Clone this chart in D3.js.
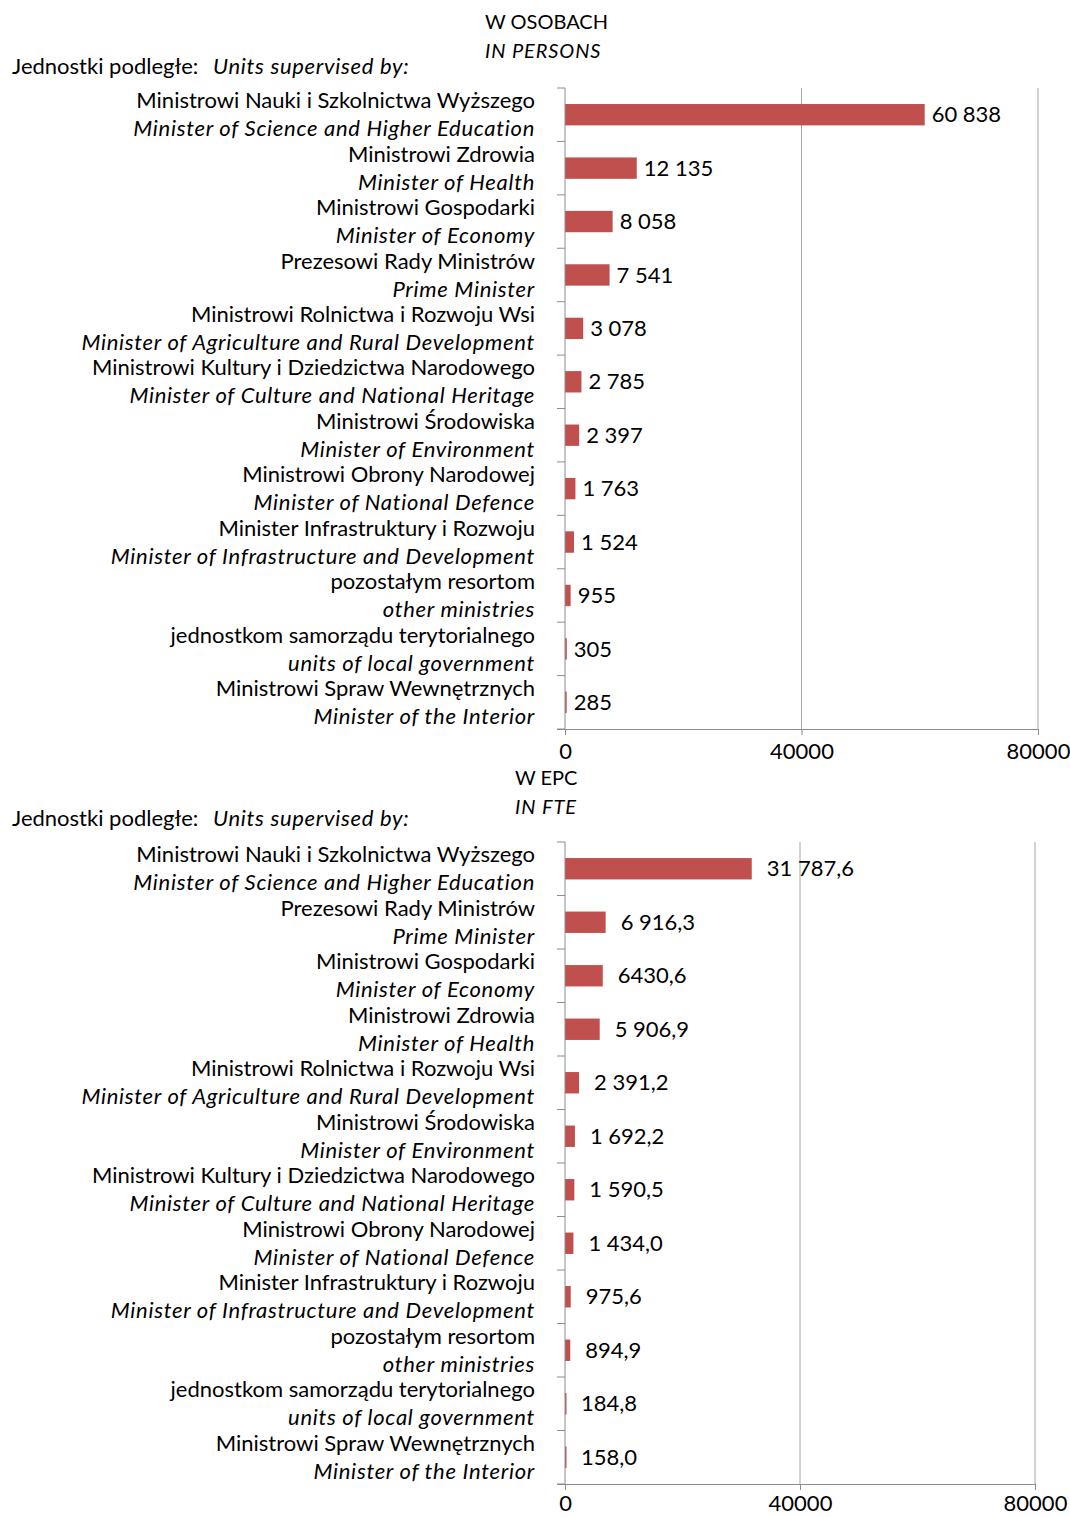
<!DOCTYPE html>
<html><head><meta charset="utf-8">
<script src="https://cdn.jsdelivr.net/npm/d3@7"></script>
<style>
body{margin:0;background:#fff;}
svg{display:block;font-family:Lato,"Open Sans",sans-serif;}
.it{font-style:italic;letter-spacing:0.7px;}
</style></head>
<body><svg id="c" width="1070" height="1517"></svg>
<script>
// ---- data ----
const catsPL1 = ["Ministrowi Nauki i Szkolnictwa Wyższego","Ministrowi Zdrowia","Ministrowi Gospodarki","Prezesowi Rady Ministrów","Ministrowi Rolnictwa i Rozwoju Wsi","Ministrowi Kultury i Dziedzictwa Narodowego","Ministrowi Środowiska","Ministrowi Obrony Narodowej","Minister Infrastruktury i Rozwoju","pozostałym resortom","jednostkom samorządu terytorialnego","Ministrowi Spraw Wewnętrznych"];
const catsEN1 = ["Minister of Science and Higher Education","Minister of Health","Minister of Economy","Prime Minister","Minister of Agriculture and Rural Development","Minister of Culture and National Heritage","Minister of Environment","Minister of National Defence","Minister of Infrastructure and Development","other ministries","units of local government","Minister of the Interior"];
const values1 = [60838,12135,8058,7541,3078,2785,2397,1763,1524,955,305,285];
const labels1 = ["60 838","12 135","8 058","7 541","3 078","2 785","2 397","1 763","1 524","955","305","285"];

const catsPL2 = ["Ministrowi Nauki i Szkolnictwa Wyższego","Prezesowi Rady Ministrów","Ministrowi Gospodarki","Ministrowi Zdrowia","Ministrowi Rolnictwa i Rozwoju Wsi","Ministrowi Środowiska","Ministrowi Kultury i Dziedzictwa Narodowego","Ministrowi Obrony Narodowej","Minister Infrastruktury i Rozwoju","pozostałym resortom","jednostkom samorządu terytorialnego","Ministrowi Spraw Wewnętrznych"];
const catsEN2 = ["Minister of Science and Higher Education","Prime Minister","Minister of Economy","Minister of Health","Minister of Agriculture and Rural Development","Minister of Environment","Minister of Culture and National Heritage","Minister of National Defence","Minister of Infrastructure and Development","other ministries","units of local government","Minister of the Interior"];
const values2 = [31787.6,6916.3,6430.6,5906.9,2391.2,1692.2,1590.5,1434.0,975.6,894.9,184.8,158.0];
const labels2 = ["31 787,6","6 916,3","6430,6","5 906,9","2 391,2","1 692,2","1 590,5","1 434,0","975,6","894,9","184,8","158,0"];

const xTicks = [0,40000,80000];
const xMax = 80000;

const svg = d3.select("#c");
const BAR = "#c0504d", GRID = "#a6a6a6", AXIS = "#8c8c8c";
const FS = 22;

function chart(o){
  const g = svg.append("g");
  g.append("text").attr("x",o.tx).attr("y",o.ty).attr("font-size",20).text(o.t1);
  g.append("text").attr("class","it").attr("x",o.tx).attr("y",o.ty+29).attr("font-size",20).style("letter-spacing","0.9px").text(o.t2);
  g.append("text").attr("x",12).attr("y",o.hy).attr("font-size",FS).text("Jednostki podległe:");
  g.append("text").attr("class","it").attr("x",213).attr("y",o.hy).attr("font-size",FS).text("Units supervised by:");

  const x = d3.scaleLinear().domain([0,xMax]).range([o.x0,o.x1]);
  const idx = d3.range(o.pl.length);
  const y = d3.scaleBand().domain(idx).range([o.top,o.bottom]).paddingInner(0.6).paddingOuter(0.3);
  const yb = d3.scaleBand().domain(idx).range([o.top,o.bottom]);

  g.selectAll(".grid").data(xTicks.slice(1)).join("line")
    .attr("x1",d=>x(d)).attr("x2",d=>x(d)).attr("y1",o.top).attr("y2",o.bottom)
    .attr("stroke",GRID).attr("stroke-width",1);

  g.selectAll(".bar").data(o.vals).join("rect")
    .attr("x",x(0)).attr("y",(d,i)=>y(i)).attr("width",d=>Math.max(1.5,x(d)-x(0))).attr("height",y.bandwidth())
    .attr("fill",BAR);

  g.selectAll(".val").data(o.vals).join("text")
    .attr("x",d=>x(d)+o.off).attr("y",(d,i)=>y(i)+y.bandwidth()/2).attr("dy","0.35em")
    .attr("font-size",FS).text((d,i)=>o.labs[i]);

  idx.forEach(i=>{
    const cy = yb(i)+yb.bandwidth()/2;
    g.append("text").attr("x",535).attr("y",cy-14).attr("dy","0.35em").attr("text-anchor","end")
      .attr("font-size",FS).text(o.pl[i]);
    g.append("text").attr("class","it").attr("x",535).attr("y",cy+14).attr("dy","0.35em").attr("text-anchor","end")
      .attr("font-size",FS).text(o.en[i]);
  });

  g.append("line").attr("x1",o.x0).attr("x2",o.x0).attr("y1",o.top).attr("y2",o.bottom).attr("stroke",AXIS);
  g.selectAll(".yt").data(d3.range(o.pl.length+1)).join("line")
    .attr("x1",o.x0-8).attr("x2",o.x0)
    .attr("y1",d=>o.top+d*yb.step()).attr("y2",d=>o.top+d*yb.step()).attr("stroke",AXIS);

  const ax = g.append("g").attr("transform",`translate(0,${o.bottom})`)
    .call(d3.axisBottom(x).tickValues(xTicks).tickFormat(d3.format("d")).tickSizeOuter(0).tickSizeInner(6).tickPadding(o.pad));
  ax.select(".domain").attr("stroke",AXIS).attr("d",`M${o.x0-8},0.5H${o.x1}`);
  ax.selectAll(".tick line").attr("stroke",AXIS);
  ax.selectAll(".tick text").attr("font-size",FS).attr("font-family","Lato,'Open Sans',sans-serif").attr("fill","#000");
}

chart({t1:"W OSOBACH",t2:"IN PERSONS",tx:485,ty:29,hy:74,x0:565,x1:1038,top:88,bottom:729,pl:catsPL1,en:catsEN1,vals:values1,labs:labels1,off:7,pad:8});
chart({t1:"W EPC",t2:"IN FTE",tx:515,ty:785,hy:826,x0:565,x1:1035,top:842,bottom:1484,pl:catsPL2,en:catsEN2,vals:values2,labs:labels2,off:15,pad:5});
</script></body></html>
